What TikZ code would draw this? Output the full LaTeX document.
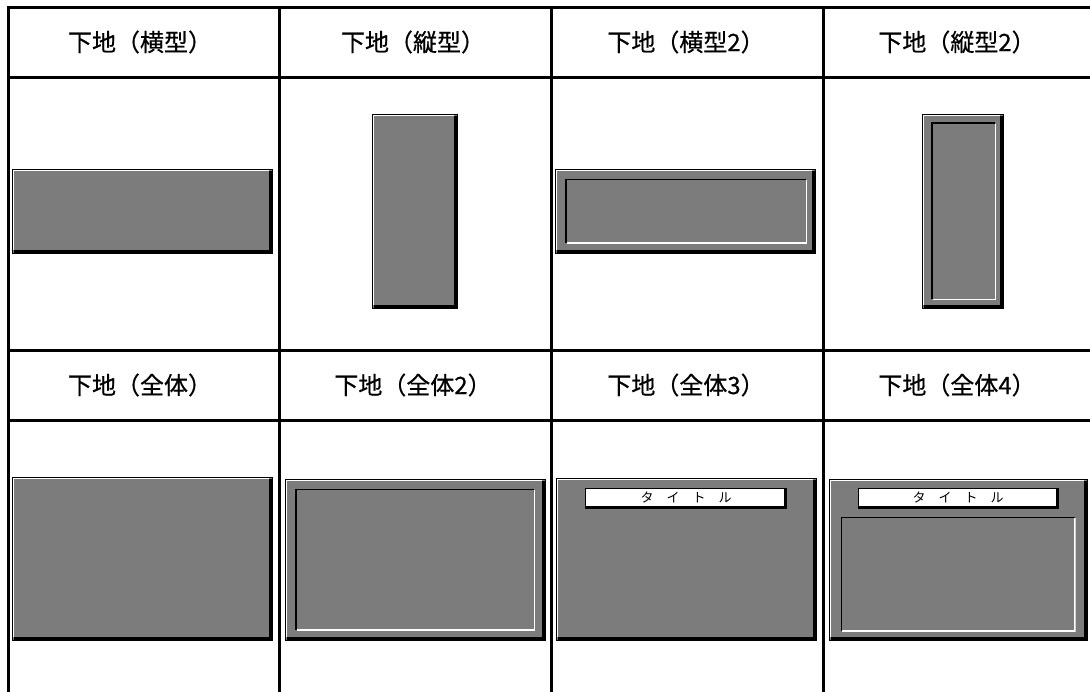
\documentclass[tikz,border=0pt]{standalone}
\usepackage{fontspec}
\newfontfamily\jp[FakeBold=0.6]{Noto Sans CJK JP}
\newfontfamily\jpthin{Noto Sans CJK JP}
\usetikzlibrary{positioning}
\definecolor{panelgray}{RGB}{124,124,124}

\tikzset{
  grid/.style={line width=3pt,line cap=rect},
  head/.style={font=\jp\fontsize{24}{28}\selectfont,inner sep=0pt},
  % raised panel: white top/left, black bottom/right
  panel/.style={draw=black,line width=0.8pt,fill=panelgray,inner sep=0pt,
    path picture={
      \draw[white,line width=1.3pt]
        ([shift={(1.4pt,3pt)}]path picture bounding box.south west) |-
        ([shift={(-3pt,-1.4pt)}]path picture bounding box.north east);
      \draw[black,line width=3pt]
        ([shift={(1.5pt,1.5pt)}]path picture bounding box.south west) -|
        ([shift={(-1.5pt,-1.5pt)}]path picture bounding box.north east);
    }},
  % sunken frame: black top/left, white bottom/right
  inframe/.style={fill=panelgray,inner sep=0pt,
    path picture={
      \draw[black,line width=1.6pt]
        ([shift={(0.8pt,0.8pt)}]path picture bounding box.south west) |-
        ([shift={(-0.8pt,-0.8pt)}]path picture bounding box.north east);
      \draw[white,line width=1.4pt]
        ([shift={(1.6pt,0.7pt)}]path picture bounding box.south west) -|
        ([shift={(-0.7pt,-1.6pt)}]path picture bounding box.north east);
    }},
  titlebar/.style={draw=black,line width=0.7pt,fill=white,inner sep=0pt,
    minimum height=20pt,font=\jpthin\fontsize{13}{15}\selectfont,
    path picture={
      \draw[black,line width=2.4pt]
        ([shift={(0pt,1.2pt)}]path picture bounding box.south west) -|
        ([shift={(-1.2pt,0pt)}]path picture bounding box.north east);
    }},
}

\newcommand{\spaced}{\hspace{13pt}}

\begin{document}
\begin{tikzpicture}[x=1pt,y=-1pt]
\useasboundingbox (0,0) rectangle (1090,691);

% table
\foreach \y in {7,77,350,420}
  \draw[grid] (8,\y) -- (1095,\y);
\foreach \x in {8,279,551,823}
  \draw[grid] (\x,7) -- (\x,695);

% headings
\node[head] (h1) at (140,42) {下地（横型）};
\node[head] (h2) at (413,42) {下地（縦型）};
\node[head] (h3) at (686,42) {下地（横型2）};
\node[head] (h4) at (957,42) {下地（縦型2）};
\node[head] (h5) at (140,385) {下地（全体）};
\node[head] (h6) at (413,385) {下地（全体2）};
\node[head] (h7) at (686,385) {下地（全体3）};
\node[head] (h8) at (957,385) {下地（全体4）};

% first row
\node[panel,minimum width=260pt,minimum height=84pt] (yoko) at (142,211) {};
\node[panel,minimum width=85pt,minimum height=194pt] (tate) at (414.5,211) {};
\node[panel,minimum width=260pt,minimum height=84pt] (yoko2) at (685,211) {};
\node[inframe,minimum width=242pt,minimum height=65pt] (yoko2in) at ([xshift=1pt]yoko2.center) {};
\node[panel,minimum width=81pt,minimum height=194pt] (tate2) at (962.5,211) {};
\node[inframe,minimum width=65pt,minimum height=178pt] (tate2in) at ([xshift=1pt]tate2.center) {};

% second row
\node[panel,minimum width=260pt,minimum height=163pt] (zentai) at (142,558.5) {};
\node[panel,minimum width=260pt,minimum height=161pt] (zentai2) at (415,559.5) {};
\node[inframe,minimum width=240pt,minimum height=142pt] (zentai2in) at (zentai2.center) {};
\node[panel,minimum width=260pt,minimum height=162pt] (zentai3) at (686,559) {};
\node[titlebar,minimum width=201pt,below=10pt of zentai3.north] (title3)
  {タ\spaced イ\spaced ト\spaced ル};
\node[panel,minimum width=258pt,minimum height=161pt] (zentai4) at (958,559.5) {};
\node[titlebar,minimum width=200pt,below=9pt of zentai4.north] (title4)
  {タ\spaced イ\spaced ト\spaced ル};
\node[inframe,minimum width=235pt,minimum height=115pt,below=8pt of title4.south] (zentai4in) {};
\end{tikzpicture}
\end{document}
